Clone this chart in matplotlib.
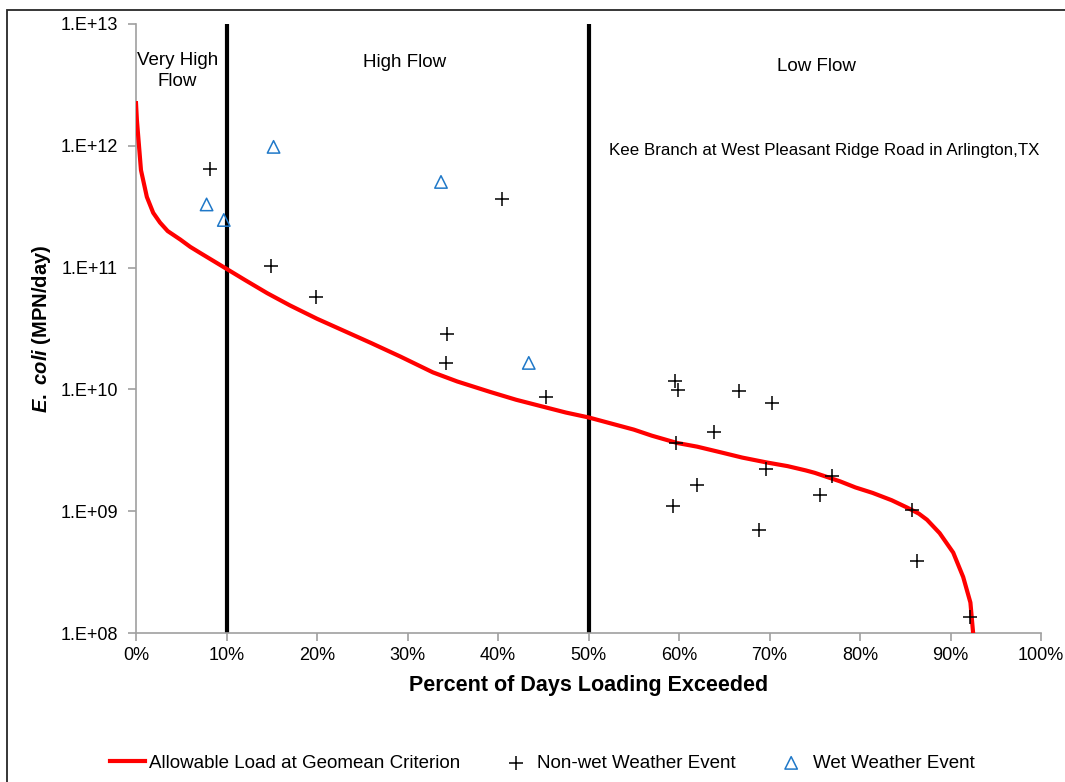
import math
import matplotlib.pyplot as plt
from matplotlib.patches import Rectangle
from matplotlib.ticker import FixedLocator, FuncFormatter

plt.rcParams['font.family'] = ['Liberation Sans', 'DejaVu Sans']
plt.rcParams['mathtext.fontset'] = 'custom'
plt.rcParams['mathtext.it'] = 'Liberation Sans:italic:bold'
plt.rcParams['mathtext.rm'] = 'Liberation Sans:bold'

# load duration curve (percent exceeded, log10 of allowable load)
curve_pct = [0.0, 0.1, 0.55, 1.2, 1.9, 2.65, 3.5, 4.9, 6.0, 7.1, 10.0,
             12.0, 14.5, 17.0, 20.0, 23.0, 26.0, 29.2, 32.8, 35.5, 39.1,
             42.0, 45.4, 47.5, 50.0, 52.5, 55.0, 57.0, 59.8, 62.0, 64.8,
             67.0, 69.7, 72.0, 74.0, 75.0, 77.8, 79.5, 81.4, 83.5, 85.2,
             86.5, 87.4, 88.8, 90.3, 91.4, 92.2, 92.5]
curve_log = [12.35, 12.21, 11.80, 11.58, 11.45, 11.37, 11.30, 11.23, 11.17,
             11.12, 10.99, 10.90, 10.79, 10.69, 10.58, 10.48, 10.38, 10.27,
             10.14, 10.065, 9.98, 9.915, 9.85, 9.81, 9.77, 9.72, 9.67, 9.62,
             9.56, 9.53, 9.48, 9.44, 9.40, 9.37, 9.335, 9.315, 9.245, 9.195,
             9.15, 9.09, 9.03, 8.98, 8.93, 8.82, 8.66, 8.46, 8.25, 8.00]

# non-wet weather samples
dry_pct = [8.2, 14.9, 19.9, 40.4, 34.4, 34.3, 45.3, 59.6, 59.9, 66.6, 70.3,
           63.9, 59.7, 69.6, 76.9, 62.0, 75.6, 59.3, 68.8, 85.7, 86.3, 92.2]
dry_load = [6.4e11, 1.03e11, 5.7e10, 3.66e11, 2.85e10, 1.65e10, 8.7e9,
            1.17e10, 9.9e9, 9.7e9, 7.7e9, 4.5e9, 3.6e9, 2.2e9, 1.95e9,
            1.64e9, 1.36e9, 1.1e9, 7.0e8, 1.02e9, 3.9e8, 1.35e8]

# wet weather samples
wet_pct = [7.8, 9.7, 15.2, 33.7, 43.4]
wet_load = [3.3e11, 2.46e11, 9.8e11, 5.05e11, 1.65e10]

flow_breaks = [10, 50]
ytick_vals = [1e8, 1e9, 1e10, 1e11, 1e12, 1e13]
xtick_vals = list(range(0, 101, 10))

fig = plt.figure(figsize=(10.65, 7.82), dpi=100)
ax = fig.add_axes([136 / 1065, 1 - 633 / 782, 905 / 1065, 609 / 782])

# chart border
fig.patches.append(Rectangle((7 / 1065, -0.05), 1.1, 1 - 10 / 782 + 0.05,
                             transform=fig.transFigure, fill=False,
                             edgecolor='#262626', linewidth=1.3))

curve_load = [10 ** v for v in curve_log]
ax.plot(curve_pct, curve_load, color='#ff0000', linewidth=3,
        label='Allowable Load at Geomean Criterion', zorder=3)
ax.scatter(dry_pct, dry_load, marker='+', s=110, color='black',
           linewidths=1.1, label='Non-wet Weather Event', zorder=4)
ax.scatter(wet_pct, wet_load, marker='^', s=80, facecolors='none',
           edgecolors='#1f78c8', linewidths=1.1, label='Wet Weather Event',
           zorder=4)

for b in flow_breaks:
    ax.axvline(b, color='black', linewidth=3, zorder=2)

ax.set_yscale('log')
ax.set_xlim(0, 100)
ax.set_ylim(1e8, 1e13)
ax.yaxis.set_major_locator(FixedLocator(ytick_vals))
ax.yaxis.set_minor_locator(FixedLocator([]))
ax.yaxis.set_major_formatter(
    FuncFormatter(lambda v, p: '1.E+%02d' % round(math.log10(v))))
ax.set_xticks(xtick_vals)
ax.set_xticklabels(['%d%%' % v for v in xtick_vals])

for side in ['top', 'right']:
    ax.spines[side].set_visible(False)
for side in ['left', 'bottom']:
    ax.spines[side].set_color('#a0a0a0')
    ax.spines[side].set_linewidth(1.2)
ax.tick_params(axis='both', direction='out', length=6, width=1.2,
               color='#a0a0a0', labelsize=13)
ax.tick_params(axis='x', pad=4)
ax.tick_params(axis='y', pad=7)

ax.set_xlabel('Percent of Days Loading Exceeded', fontsize=15.5,
              fontweight='bold', labelpad=8)
ax.set_ylabel(r'$E.\ coli$ (MPN/day)', fontsize=14.5, fontweight='bold',
              labelpad=5)

ax.text(4.6, 0.923, 'Very High\nFlow', transform=ax.get_xaxis_transform(),
        ha='center', va='center', fontsize=13.5, linespacing=1.3)
ax.text(29.7, 0.937, 'High Flow', transform=ax.get_xaxis_transform(),
        ha='center', va='center', fontsize=13.5)
ax.text(75.2, 0.93, 'Low Flow', transform=ax.get_xaxis_transform(),
        ha='center', va='center', fontsize=13.5)
ax.text(76.0, 0.793, 'Kee Branch at West Pleasant Ridge Road in Arlington,TX',
        transform=ax.get_xaxis_transform(), ha='center', va='center',
        fontsize=12.2)

fig.legend(loc='center', bbox_to_anchor=(0.509, 0.024), ncol=3, frameon=False,
           fontsize=13.5, handlelength=1.9, handletextpad=0.2,
           columnspacing=2.0)

fig.savefig('out.png', dpi=100)
